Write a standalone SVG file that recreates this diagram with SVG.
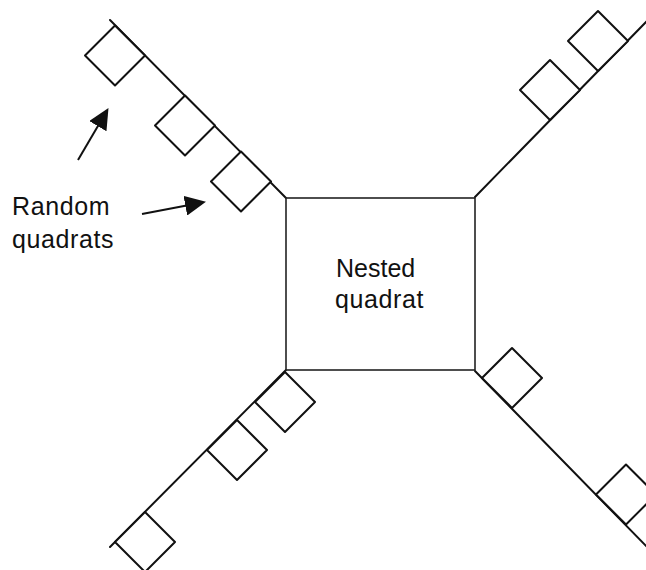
<svg xmlns="http://www.w3.org/2000/svg" width="646" height="570" viewBox="0 0 646 570">
  <style>
    .transect { stroke: #111; stroke-width: 2; fill: none; stroke-linecap: round; }
    .quad { stroke: #111; stroke-width: 2; fill: #fff; stroke-linejoin: round; }
    .nested { stroke: #222; stroke-width: 1.6; fill: #fff; }
    .pointer { stroke: #111; stroke-width: 2; fill: none; }
    .label { font-family: "Liberation Sans", Arial, sans-serif; font-size: 25px; fill: #111; }
    .wide { letter-spacing: 0.6px; }
  </style>
  <defs>
    <marker id="head" markerUnits="userSpaceOnUse" markerWidth="21" markerHeight="20" refX="8" refY="10" orient="auto">
      <path d="M0,0 L21,10 L0,20 z" fill="#111"/>
    </marker>
  </defs>

  <rect width="646" height="570" fill="#fff"/>

  <!-- transect lines radiating from the corners of the nested quadrat -->
  <g id="connectors">
    <line class="transect" x1="110" y1="20" x2="286" y2="198"/>
    <line class="transect" x1="475" y1="197" x2="648" y2="20"/>
    <line class="transect" x1="286" y1="370" x2="110" y2="547"/>
    <line class="transect" x1="475" y1="371" x2="650" y2="550"/>
    <!-- pointers to the random quadrats -->
    <line class="pointer" x1="78" y1="160" x2="101.9" y2="119.3" marker-end="url(#head)"/>
    <line class="pointer" x1="142" y1="214" x2="193.2" y2="204.2" marker-end="url(#head)"/>
  </g>

  <!-- central nested quadrat -->
  <g id="nested-quadrat">
    <rect class="nested" x="286" y="198" width="189" height="172"/>
    <text class="label" x="336" y="277">Nested</text>
    <text class="label wide" x="335" y="308">quadrat</text>
  </g>

  <!-- random quadrats along the north-west transect -->
  <g id="quadrat-nw-1"><polygon class="quad" points="115,25.5 145,55.5 115,85.5 85,55.5"/></g>
  <g id="quadrat-nw-2"><polygon class="quad" points="185,95.5 215,125.5 185,155.5 155,125.5"/></g>
  <g id="quadrat-nw-3"><polygon class="quad" points="241,151.5 271,181.5 241,211.5 211,181.5"/></g>

  <!-- random quadrats along the north-east transect -->
  <g id="quadrat-ne-1"><polygon class="quad" points="550,60 580,90 550,120 520,90"/></g>
  <g id="quadrat-ne-2"><polygon class="quad" points="598,11 628,41 598,71 568,41"/></g>

  <!-- random quadrats along the south-west transect -->
  <g id="quadrat-sw-1"><polygon class="quad" points="285,372 315,402 285,432 255,402"/></g>
  <g id="quadrat-sw-2"><polygon class="quad" points="237,420 267,450 237,480 207,450"/></g>
  <g id="quadrat-sw-3"><polygon class="quad" points="145,512 175,542 145,572 115,542"/></g>

  <!-- random quadrats along the south-east transect -->
  <g id="quadrat-se-1"><polygon class="quad" points="512,348 542,378 512,408 482,378"/></g>
  <g id="quadrat-se-2"><polygon class="quad" points="626,464.5 656,494.5 626,524.5 596,494.5"/></g>

  <!-- caption for the pointers -->
  <g id="random-label">
    <text class="label wide" x="12" y="215">Random</text>
    <text class="label wide" x="12" y="248">quadrats</text>
  </g>
</svg>
